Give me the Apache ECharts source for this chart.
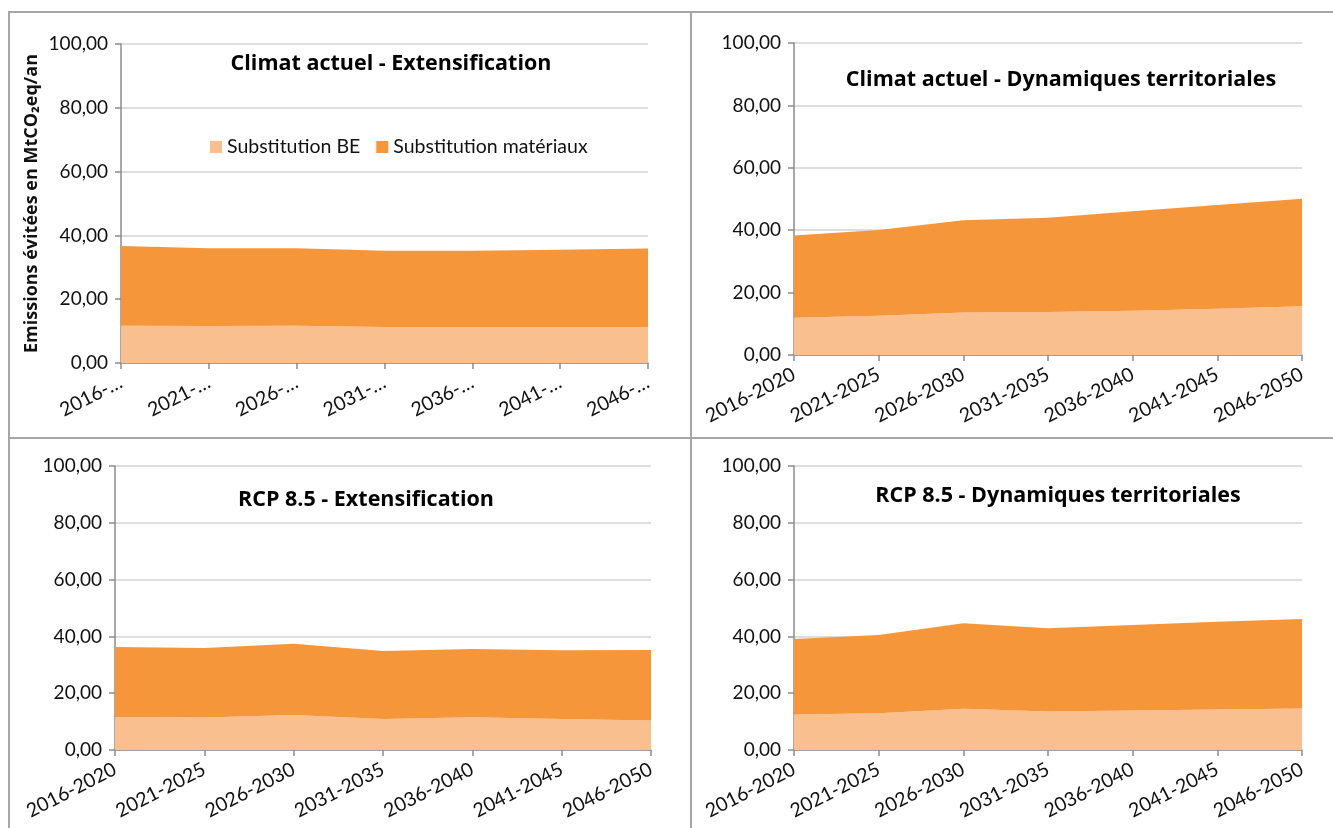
<!DOCTYPE html>
<html><head><meta charset="utf-8">
<script src="https://cdn.jsdelivr.net/npm/echarts@6/dist/echarts.min.js"></script>
<style>html,body{margin:0;padding:0;background:#fff}#c{width:1333px;height:828px}</style>
</head><body><div id="c"></div>
<script>
const categories = ['2016-2020','2021-2025','2026-2030','2031-2035','2036-2040','2041-2045','2046-2050'];
const seriesNames = ['Substitution BE','Substitution matériaux'];
const titles = ['Climat actuel - Extensification','Climat actuel - Dynamiques territoriales','RCP 8.5 - Extensification','RCP 8.5 - Dynamiques territoriales'];
const yTicks = {min:0, max:100, interval:20};
const yAxisTitle = 'Emissions évitées en MtCO₂eq/an';

const actuelExtBE  = [11.7, 11.6, 11.7, 11.3, 11.3, 11.3, 11.3];
const actuelExtMat = [25.0, 24.4, 24.3, 23.9, 23.9, 24.2, 24.6];
const actuelDynBE  = [11.9, 12.6, 13.6, 13.8, 14.2, 14.8, 15.6];
const actuelDynMat = [26.4, 27.5, 29.6, 30.2, 31.9, 33.3, 34.5];
const rcpExtBE     = [11.5, 11.4, 12.3, 10.9, 11.5, 10.9, 10.4];
const rcpExtMat    = [24.8, 24.5, 25.1, 24.0, 24.1, 24.2, 24.8];
const rcpDynBE     = [12.5, 12.9, 14.5, 13.6, 13.9, 14.3, 14.6];
const rcpDynMat    = [26.6, 27.6, 30.1, 29.3, 30.1, 30.9, 31.5];

const panels = [[actuelExtBE, actuelExtMat],[actuelDynBE, actuelDynMat],[rcpExtBE, rcpExtMat],[rcpDynBE, rcpDynMat]];
const colors = ['#F9BF8F','#F6963B'];
const FONT = 'Lato';
const TFONT = '"Open Sans"';

const grids = [
  {left:121, top:44, width:527, height:319},
  {left:794, top:43, width:508, height:312},
  {left:115, top:466, width:536, height:284},
  {left:794, top:466, width:508, height:284}
];
const titlePos = [[391,64],[1061,80],[366,500],[1058,496]];

const xAxes = [], yAxes = [], series = [];
grids.forEach((g, i) => {
  xAxes.push({
    type:'category', gridIndex:i, data:categories, boundaryGap:false,
    axisLine:{lineStyle:{color:'#8c8c8c', width:1.5}},
    axisTick:{show:true, length:6, lineStyle:{color:'#8c8c8c', width:1.5}},
    axisLabel:{
      rotate:27, margin:18, color:'#111', fontFamily:FONT, fontSize:19.5, interval:0,
      formatter: i === 0 ? (v => v.slice(0,5) + '…') : (v => v)
    },
    splitLine:{show:false}
  });
  yAxes.push({
    type:'value', gridIndex:i, min:yTicks.min, max:yTicks.max, interval:yTicks.interval,
    name: i === 0 ? yAxisTitle : '',
    nameLocation:'middle', nameGap:80, nameRotate:90,
    nameTextStyle:{fontFamily:TFONT, fontWeight:'bold', fontSize:18, color:'#111'},
    axisLine:{show:true, lineStyle:{color:'#8c8c8c', width:1.5}},
    axisTick:{show:true, length:6, lineStyle:{color:'#8c8c8c', width:1.5}},
    axisLabel:{color:'#111', fontFamily:FONT, fontSize:19, margin:13,
      formatter: v => v.toFixed(2).replace('.', ',')},
    splitLine:{show:true, lineStyle:{color:'#dedede', width:2}}
  });
  panels[i].forEach((arr, k) => {
    series.push({
      name: seriesNames[k], type:'line', xAxisIndex:i, yAxisIndex:i,
      stack:'s'+i, data:arr, symbol:'none', smooth:false,
      lineStyle:{width:0, color:colors[k]},
      itemStyle:{color:colors[k]},
      areaStyle:{color:colors[k], opacity:1},
      emphasis:{disabled:true}, silent:true
    });
  });
});

const graphics = titles.map((t, i) => ({
  type:'text', x:titlePos[i][0], y:titlePos[i][1], silent:true,
  style:{text:t, x:0, y:0, fill:'#000', font:'bold 21.5px ' + TFONT, textAlign:'center', textVerticalAlign:'middle'}
}));

const border = '#a6a6a6';
[[8,12,1333,12],[9,12,9,828],[691,12,691,828],[8,438,1333,438]].forEach(l => {
  graphics.push({type:'line', silent:true, shape:{x1:l[0], y1:l[1], x2:l[2], y2:l[3]}, style:{stroke:border, lineWidth:2}});
});

const chart = echarts.init(document.getElementById('c'), null, {renderer:'canvas'});
chart.setOption({
  animation:false,
  backgroundColor:'#fff',
  grid: grids,
  xAxis: xAxes,
  yAxis: yAxes,
  legend: {
    data: seriesNames, left:205, top:132, icon:'rect', itemWidth:12, itemHeight:12, itemGap:16,
    textStyle:{fontFamily:FONT, fontSize:19.5, color:'#111'}, selectedMode:false
  },
  tooltip:{show:false},
  series: series,
  graphic: graphics
});
</script>
</body></html>
